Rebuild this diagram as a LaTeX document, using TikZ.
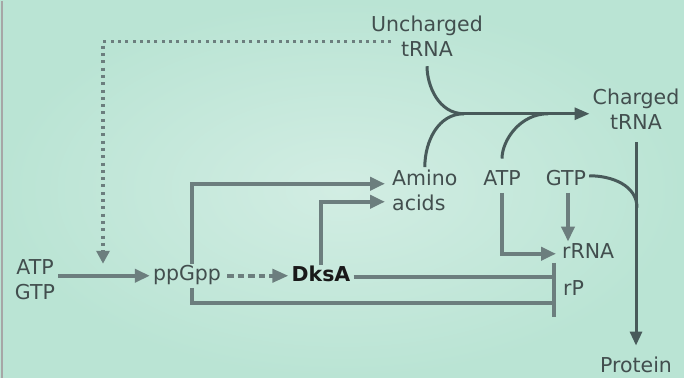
\documentclass[tikz,border=0pt]{standalone}
\usepackage{fontspec}
\setmainfont{DejaVu Sans}
\usetikzlibrary{arrows.meta}

\definecolor{bgedge}{RGB}{186,228,212}
\definecolor{bgmid}{RGB}{210,237,227}
\definecolor{linegray}{RGB}{108,126,126}
\definecolor{linedark}{RGB}{72,90,90}
\definecolor{txtgray}{RGB}{66,78,78}

\begin{document}
\begin{tikzpicture}[x=1pt, y=1pt,
  every node/.style={font=\fontsize{20.5}{25}\selectfont, text=txtgray, inner sep=3pt},
  lbl/.style={text height=14pt, text depth=4pt},
  arr/.style={draw=linegray, line width=3.8pt, -{Triangle[length=15pt,width=13pt]}},
  main/.style={draw=linedark, line width=3pt},
  inh/.style={draw=linegray, line width=3.8pt, -{Bar[width=28pt]}},
  fb/.style={draw=linegray, line width=3.5pt, dash pattern=on 3pt off 4.3pt, -{Triangle[length=13pt,width=13pt]}},
  dsh/.style={draw=linegray, line width=3.8pt, dash pattern=on 6.5pt off 4pt, -{Triangle[length=16pt,width=13pt]}}]

% Background
\fill[bgedge] (0,0) rectangle (684,-377);
\shade[inner color=bgmid, outer color=bgedge] (0,0) rectangle (684,-377);
\draw[gray!70, line width=1.5pt] (2,0) -- (2,-377);   % left edge

% Labels
\node (unch) [align=center] at (427,-35) {Uncharged\\tRNA};
\node (chg) [align=center] at (636,-108) {Charged\\tRNA};
\node (aa) [align=left, anchor=west] at (389,-190) {Amino\\acids};
\node (ntp) [align=center] at (35,-279) {ATP\\GTP};
\node (dksa) [lbl, anchor=base, text=black!90,
  font=\fontsize{20.5}{25}\selectfont\bfseries] at (321,-281) {DksA};
\foreach \nm/\x/\y/\txt in {ppgpp/187/280/ppGpp, atpb/502/185/ATP, gtpb/566/185/GTP, prot/636/372/Protein} {
    \node[lbl, anchor=base] (\nm) at (\x,-\y) {\txt};
}
\node (rrna) [lbl, anchor=base west] at (559,-258) {rRNA};
\node (rp) [lbl, anchor=base west] at (560,-295) {rP};

% Feedback from uncharged tRNA (dotted)
\coordinate (fbstart) at (391,-41);
\coordinate (fbend) at (103,-263);
\draw[fb] (fbstart) -| (fbend);

% Synthesis of ppGpp and its effect on DksA
\draw[arr] (ntp.east |- ppgpp.west) -- (ppgpp.west);
\draw[dsh, shorten <=3pt] (ppgpp.east) -- (ppgpp.east -| dksa.west);

% Amino acids
\draw[arr, shorten >=4pt] ([xshift=5pt]ppgpp.north) |- ([yshift=7pt]aa.west);
\draw[arr, shorten >=4pt] (dksa.north) |- ([yshift=-11pt]aa.west);

% Inhibition of rRNA and rP
\coordinate (blk) at (556,-289);
\draw[inh] (dksa.east) -- (dksa.east -| blk);
\draw[inh] ([xshift=5pt]ppgpp.south) |- ([yshift=-13pt]blk);

% ATP and GTP into rRNA
\draw[arr, shorten >=3pt] (atpb.south) |- (rrna.west);
\draw[arr] ([xshift=2pt]gtpb.south) -- ([xshift=2pt]gtpb.south |- rrna.north);

% Charging of tRNA
\coordinate (jn) at (464,-113);
\coordinate (jm) at (548,-113);
\draw[main, shorten <=7pt] (unch.south) to[out=-90, in=180] (jn);
\draw[main] (aa.north) to[out=90, in=180] (jn);
\draw[main, shorten <=10pt] (atpb.north) to[out=90, in=180] (jm);
\draw[main, -{Triangle[length=15pt,width=12pt]}] (jn) -- (jn -| chg.west);

% Protein synthesis
\draw[main, shorten <=10pt, shorten >=10pt, -{Triangle[length=14pt,width=12pt]}] (chg.south) -- (prot.north);
\coordinate (gj) at (637,-207);
\draw[main] ([yshift=5pt]gtpb.east) to[out=0, in=90] (gj);

\end{tikzpicture}
\end{document}
